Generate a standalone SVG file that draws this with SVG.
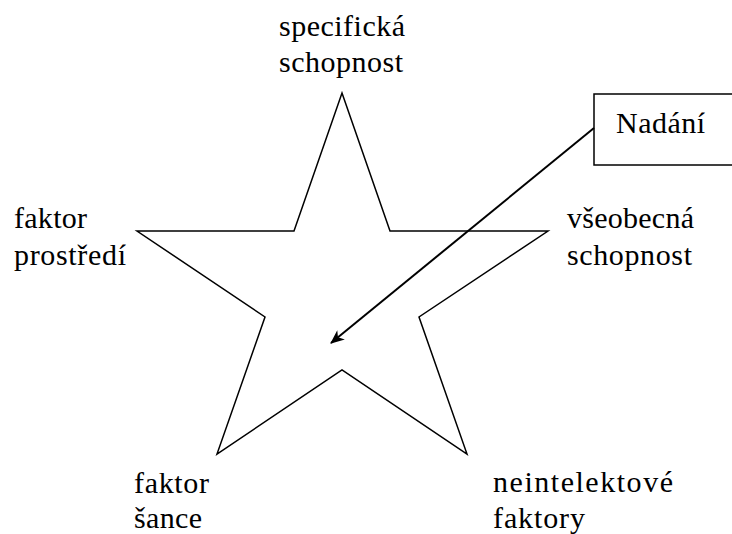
<svg xmlns="http://www.w3.org/2000/svg" width="732" height="534" viewBox="0 0 732 534">
  <style>
    .shape { fill: none; stroke: #000; stroke-width: 1.5; stroke-linejoin: miter; }
    .conn { fill: none; stroke: #000; stroke-width: 2; }
  </style>
  <defs>
    <marker id="arrowhead" viewBox="0 0 14 12" refX="13" refY="6" markerWidth="14" markerHeight="12" markerUnits="userSpaceOnUse" orient="auto">
      <path d="M0,0 L14,6 L0,12 L4,6 Z" fill="#000"/>
    </marker>
  </defs>
  <rect width="732" height="534" fill="#fff"/>

  <!-- five-pointed star -->
  <g id="star">
    <polygon class="shape" points="342,93 390,231 548,231 419,317 467,454 342,370 217,454 265,317 137,231 294,231"/>
  </g>

  <g font-family="Liberation Serif, DejaVu Serif, serif" font-size="30" fill="#000" lengthAdjust="spacing">
    <g id="label-specific">
      <text x="279" y="36" textLength="126">specifická</text>
      <text x="279" y="72" textLength="124">schopnost</text>
    </g>
    <g id="label-environment">
      <text x="14" y="228" textLength="73">faktor</text>
      <text x="14" y="265" textLength="112">prostředí</text>
    </g>
    <g id="label-general">
      <text x="567" y="228" textLength="127">všeobecná</text>
      <text x="567" y="265" textLength="125">schopnost</text>
    </g>
    <g id="label-chance">
      <text x="134" y="493" textLength="75">faktor</text>
      <text x="134" y="528" textLength="68">šance</text>
    </g>
    <g id="label-nonintellect">
      <text x="493" y="492" textLength="180">neintelektové</text>
      <text x="493" y="528" textLength="92">faktory</text>
    </g>
    <g id="node-nadani">
      <rect class="shape" x="594" y="94" width="150" height="71"/>
      <text x="616" y="133" textLength="89">Nadání</text>
    </g>
  </g>

  <g id="connectors">
    <line class="conn" x1="594" y1="128" x2="331" y2="343" marker-end="url(#arrowhead)"/>
  </g>
</svg>
